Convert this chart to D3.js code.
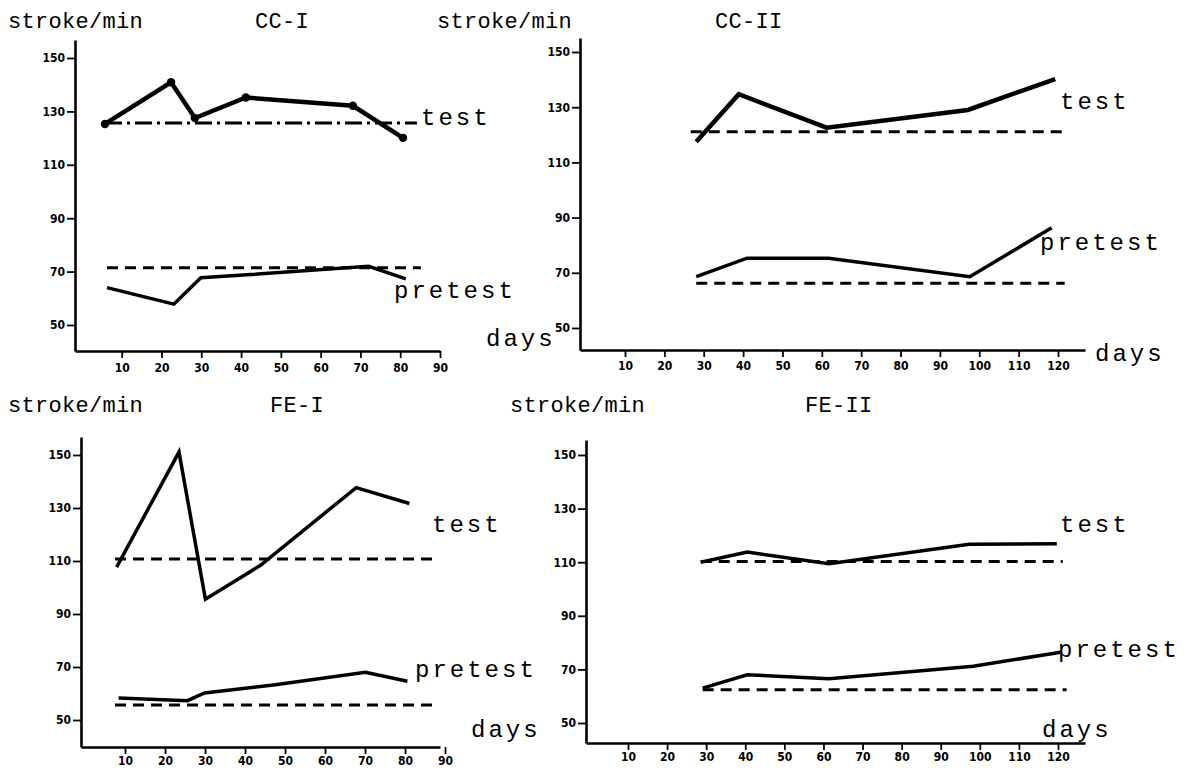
<!DOCTYPE html>
<html>
<head>
<meta charset="utf-8">
<script src="https://cdn.jsdelivr.net/npm/d3@7"></script>
<style>
  body { margin: 0; background: #fff; }
  svg { display: block; }
  .lbl { font-family: "Liberation Mono", "Courier New", monospace; fill: #000; }
  .tick text { font-family: "DejaVu Sans Condensed", "DejaVu Sans", sans-serif; font-weight: bold; font-size: 12px; fill: #000; }
</style>
</head>
<body>
<svg id="chart" width="1189" height="773"></svg>
<script>
// ---- axis ticks ----
const dayTicksShort = [10, 20, 30, 40, 50, 60, 70, 80, 90];
const dayTicksLong = [10, 20, 30, 40, 50, 60, 70, 80, 90, 100, 110, 120];
const rateTicks = [50, 70, 90, 110, 130, 150];

// ---- CC-I ----
const cc1TestDays = [5.8, 22.4, 28.4, 41.2, 68.1, 80.7];
const cc1TestRate = [125.3, 140.9, 127.5, 135.2, 132.1, 120.1];
const cc1PreDays = [6.3, 23.1, 29.9, 41.5, 72.1, 81.4];
const cc1PreRate = [64.0, 57.8, 67.7, 68.8, 72.0, 67.3];
const cc1TestLevel = 125.7;
const cc1TestLevelDays = [5.8, 84.2];
const cc1PreLevel = 71.4;
const cc1PreLevelDays = [6.3, 85.2];

// ---- CC-II ----
const cc2TestDays = [28.1, 38.9, 61.2, 97.1, 119.3];
const cc2TestRate = [117.5, 134.7, 122.6, 129.0, 140.2];
const cc2PreDays = [28.1, 41.0, 61.7, 97.6, 118.4];
const cc2PreRate = [68.6, 75.3, 75.3, 68.6, 86.3];
const cc2TestLevel = 121.1;
const cc2TestLevelDays = [26.7, 122.0];
const cc2PreLevel = 66.2;
const cc2PreLevelDays = [28.1, 121.7];

// ---- FE-I ----
const fe1TestDays = [7.9, 23.5, 30.1, 43.8, 67.8, 81.1];
const fe1TestRate = [107.7, 151.1, 95.6, 108.3, 137.7, 131.7];
const fe1PreDays = [8.4, 25.6, 29.9, 47.6, 70.1, 80.6];
const fe1PreRate = [58.3, 57.3, 60.2, 63.3, 68.0, 64.6];
const fe1TestLevel = 110.8;
const fe1TestLevelDays = [7.5, 87.8];
const fe1PreLevel = 55.7;
const fe1PreLevelDays = [7.5, 87.4];

// ---- FE-II ----
const fe2TestDays = [28.6, 40.5, 61.4, 97.3, 119.7];
const fe2TestRate = [110.0, 113.8, 109.4, 116.7, 116.9];
const fe2PreDays = [29.1, 40.5, 61.4, 98.3, 120.7];
const fe2PreRate = [63.0, 68.0, 66.5, 71.2, 76.4];
const fe2TestLevel = 110.3;
const fe2TestLevelDays = [28.6, 121.2];
const fe2PreLevel = 62.4;
const fe2PreLevelDays = [29.1, 122.2];

const yTitle = "stroke/min";
const xTitle = "days";

const zip = (a, b) => a.map((d, i) => [d, b[i]]);

// Panel geometry: pixel anchors for the first/last labelled tick of each axis
const panels = [
  {
    name: "CC-I", xTicks: dayTicksShort,
    left: 75, bottom: 351, top: 40, right: 440,
    xA: [10, 121.7], xB: [90, 440], yA: [150, 58], yB: [50, 325], xGap: 18,
    test: zip(cc1TestDays, cc1TestRate), pre: zip(cc1PreDays, cc1PreRate),
    testLevel: cc1TestLevel, testLevelDays: cc1TestLevelDays,
    preLevel: cc1PreLevel, preLevelDays: cc1PreLevelDays,
    testW: 4.5, preW: 3.5, testDash: "17,5,3,5", markers: true,
    titleY: 28, yTitleX: 8, nameX: 255,
    testLbl: [421, 125], preLbl: [394, 298], daysLbl: [486, 346]
  },
  {
    name: "CC-II", xTicks: dayTicksLong,
    left: 580, bottom: 350, top: 38, right: 1085,
    xA: [10, 625], xB: [120, 1058], yA: [150, 52], yB: [50, 328], xGap: 17,
    test: zip(cc2TestDays, cc2TestRate), pre: zip(cc2PreDays, cc2PreRate),
    testLevel: cc2TestLevel, testLevelDays: cc2TestLevelDays,
    preLevel: cc2PreLevel, preLevelDays: cc2PreLevelDays,
    testW: 4.5, preW: 3.5, testDash: "11,7", markers: false,
    titleY: 28, yTitleX: 437, nameX: 715,
    testLbl: [1060, 109], preLbl: [1040, 250], daysLbl: [1095, 361]
  },
  {
    name: "FE-I", xTicks: dayTicksShort,
    left: 81, bottom: 747, top: 437, right: 440,
    xA: [10, 125], xB: [90, 445], yA: [150, 455], yB: [50, 720], xGap: 15,
    test: zip(fe1TestDays, fe1TestRate), pre: zip(fe1PreDays, fe1PreRate),
    testLevel: fe1TestLevel, testLevelDays: fe1TestLevelDays,
    preLevel: fe1PreLevel, preLevelDays: fe1PreLevelDays,
    testW: 3.5, preW: 3.5, testDash: "11,7", markers: false,
    titleY: 412, yTitleX: 8, nameX: 270,
    testLbl: [432, 532], preLbl: [415, 677], daysLbl: [471, 737]
  },
  {
    name: "FE-II", xTicks: dayTicksLong,
    left: 586, bottom: 743, top: 440, right: 1085,
    xA: [10, 628], xB: [120, 1058], yA: [150, 455], yB: [50, 723], xGap: 15,
    test: zip(fe2TestDays, fe2TestRate), pre: zip(fe2PreDays, fe2PreRate),
    testLevel: fe2TestLevel, testLevelDays: fe2TestLevelDays,
    preLevel: fe2PreLevel, preLevelDays: fe2PreLevelDays,
    testW: 3.5, preW: 3.5, testDash: "11,7", markers: false,
    titleY: 412, yTitleX: 510, nameX: 805,
    testLbl: [1060, 532], preLbl: [1058, 657], daysLbl: [1042, 737]
  }
];

const svg = d3.select("#chart");

panels.forEach(p => {
  const g = svg.append("g");

  // Linear scales anchored on two labelled ticks, extended to the axis ends
  const xs = d3.scaleLinear().domain([p.xA[0], p.xB[0]]).range([p.xA[1], p.xB[1]]);
  const x = d3.scaleLinear().domain([xs.invert(p.left), xs.invert(p.right)]).range([p.left, p.right]);
  const ys = d3.scaleLinear().domain([p.yA[0], p.yB[0]]).range([p.yA[1], p.yB[1]]);
  const y = d3.scaleLinear().domain([ys.invert(p.bottom), ys.invert(p.top)]).range([p.bottom, p.top]);

  // axes
  const xAxis = d3.axisBottom(x).tickValues(p.xTicks).tickSize(7).tickSizeOuter(0)
    .tickPadding(p.xGap - 13);
  const yAxis = d3.axisLeft(y).tickValues(rateTicks).tickSize(8).tickSizeOuter(0).tickPadding(2);

  const gx = g.append("g").attr("transform", `translate(0,${p.bottom})`).call(xAxis);
  const gy = g.append("g").attr("transform", `translate(${p.left},0)`).call(yAxis);
  [gx, gy].forEach(a => {
    a.select(".domain").attr("stroke", "#000").attr("stroke-width", 2.6);
    a.selectAll(".tick line").attr("stroke", "#000").attr("stroke-width", 1.8);
  });

  const line = d3.line().x(d => x(d[0])).y(d => y(d[1]));

  // reference levels
  g.append("line")
    .attr("x1", x(p.testLevelDays[0])).attr("x2", x(p.testLevelDays[1]))
    .attr("y1", y(p.testLevel)).attr("y2", y(p.testLevel))
    .attr("stroke", "#000").attr("stroke-width", 3).attr("stroke-dasharray", p.testDash);
  g.append("line")
    .attr("x1", x(p.preLevelDays[0])).attr("x2", x(p.preLevelDays[1]))
    .attr("y1", y(p.preLevel)).attr("y2", y(p.preLevel))
    .attr("stroke", "#000").attr("stroke-width", 3).attr("stroke-dasharray", "11,7");

  // measured series
  g.append("path").datum(p.test).attr("d", line)
    .attr("fill", "none").attr("stroke", "#000").attr("stroke-width", p.testW)
    .attr("stroke-linejoin", "miter");
  g.append("path").datum(p.pre).attr("d", line)
    .attr("fill", "none").attr("stroke", "#000").attr("stroke-width", p.preW)
    .attr("stroke-linejoin", "miter");

  if (p.markers) {
    g.selectAll("circle.pt").data(p.test).join("circle").attr("class", "pt")
      .attr("cx", d => x(d[0])).attr("cy", d => y(d[1])).attr("r", 4.2).attr("fill", "#000");
  }

  // titles and labels
  const txt = (s, xx, yy, size, spacing) => g.append("text").attr("class", "lbl")
    .attr("x", xx).attr("y", yy).attr("font-size", size).attr("letter-spacing", spacing)
    .text(s);
  txt(yTitle, p.yTitleX, p.titleY, 22, 0.3);
  txt(p.name, p.nameX, p.titleY, 22, 0.3);
  txt("test", p.testLbl[0], p.testLbl[1], 24, 3);
  txt("pretest", p.preLbl[0], p.preLbl[1], 24, 3);
  txt(xTitle, p.daysLbl[0], p.daysLbl[1], 24, 3);
});
</script>
</body>
</html>
